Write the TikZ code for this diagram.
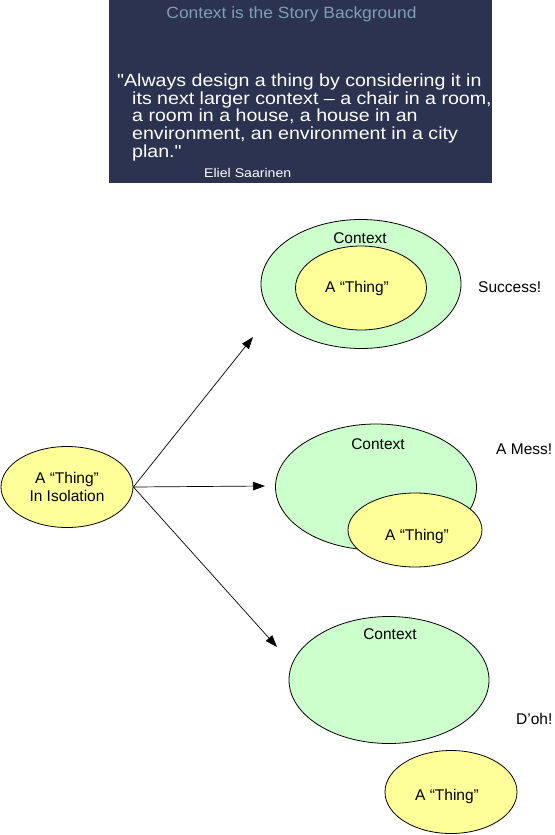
\documentclass[tikz,border=0pt]{standalone}
\usepackage{fontspec}
\setmainfont{Liberation Sans}
\newfontfamily\titlefont[FakeStretch=1.07]{Liberation Sans}
\newfontfamily\quotefont[FakeStretch=1.12]{Liberation Sans}
\usepackage{tikz}
\usetikzlibrary{shapes.geometric,arrows.meta,positioning}
\usepackage{xcolor}
\definecolor{slidebg}{RGB}{43,51,80}
\definecolor{titlegrey}{RGB}{130,156,182}
\definecolor{ctxgreen}{RGB}{204,255,204}
\definecolor{thingyellow}{RGB}{255,255,153}

\begin{document}
\begin{tikzpicture}[x=1pt,y=-1pt,
            blob/.style={ellipse,draw=black,line width=0.8pt,inner sep=0pt},
            ctx/.style={blob,fill=ctxgreen,minimum width=200pt,minimum height=128pt},
            thing/.style={blob,fill=thingyellow,minimum width=132pt,minimum height=83pt},
            lbl/.style={font=\fontsize{15.5}{18}\selectfont,inner sep=0pt},
            arr/.style={-{Triangle[length=12pt,width=8.5pt]},line width=0.7pt}
            ]
            \useasboundingbox (0,0) rectangle (554,835);

            % Slide with the quote
            \fill[slidebg] (109,0) rectangle (492,183);
            \node[font=\titlefont\fontsize{16.3}{18}\selectfont,text=titlegrey,anchor=base,inner sep=0pt]
                (title) at (291.5,18) {Context is the Story Background};
            \node[font=\quotefont\fontsize{17.5}{17.8}\selectfont,text=white,align=left,anchor=north west,inner sep=0pt]
                (quote) at (117,73.5) {"Always design a thing by considering it in\\
                \hspace*{15pt}its next larger context – a chair in a room,\\
                \hspace*{15pt}a room in a house, a house in an\\
                \hspace*{15pt}environment, an environment in a city\\
                \hspace*{15pt}plan."};
            \node[font=\quotefont\fontsize{12.6}{14}\selectfont,text=white,anchor=base west,inner sep=0pt]
                (author) at (204,177) {Eliel Saarinen};

            % The thing on its own
            \node[thing,minimum height=81pt,align=center,lbl] (solo) at (67,487) {A “Thing”\\In Isolation};

            % Success
            \node[ctx,minimum height=129pt] (ctxA) at (361,284) {};
            \node[thing,minimum width=131pt,minimum height=84pt] (thingA) at (361,288) {};
            \node[lbl,anchor=base] (ctxAtext) at (360,243) {Context};
            \node[lbl,anchor=base] (thingAtext) at (357,292) {A “Thing”};
            \node[lbl,anchor=base west] (success) at (478,292) {Success!};

            % A mess
            \node[ctx,minimum width=201pt,minimum height=126pt] (ctxB) at (376,487) {};
            \node[thing,minimum width=134pt,minimum height=74pt] (thingB) at (415,530) {};
            \node[lbl,anchor=base] (ctxBtext) at (378,449) {Context};
            \node[lbl,anchor=base] (thingBtext) at (417,540) {A “Thing”};
            \node[lbl,anchor=base west] (mess) at (496,454) {A Mess!};

            % D'oh
            \node[ctx,minimum height=127pt] (ctxC) at (389,680) {};
            \node[thing] (thingC) at (451,792) {};
            \node[lbl,anchor=base] (ctxCtext) at (390,639) {Context};
            \node[lbl,anchor=base] (thingCtext) at (447,800) {A “Thing”};
            \node[lbl,anchor=base west] (doh) at (516,724) {D’oh!};

            % Arrows
            \coordinate (tipA) at (253,337);
            \coordinate (tipB) at (265,486);
            \coordinate (tipC) at (277,647);
            \foreach \t in {tipA,tipB,tipC}
                \draw[arr] (solo.east) -- (\t);
\end{tikzpicture}
\end{document}
